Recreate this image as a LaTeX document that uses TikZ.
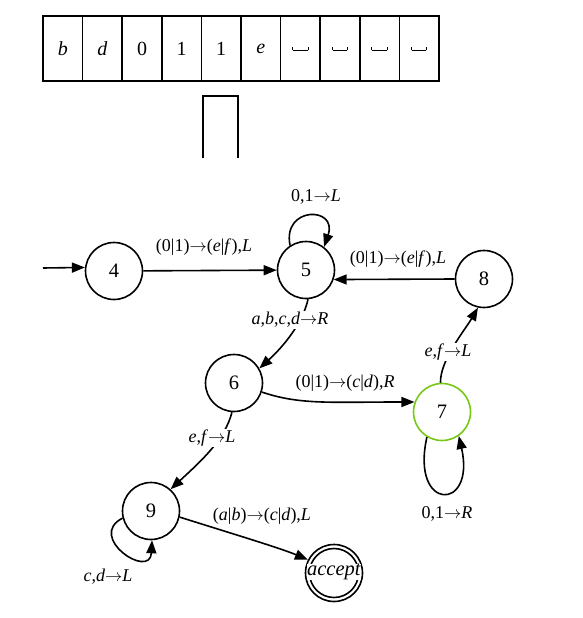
\documentclass[tikz,border=0pt]{standalone}
\usepackage{fontspec}
\setmainfont{Liberation Serif}
\usetikzlibrary{arrows.meta}
\definecolor{stategreen}{RGB}{118,200,20}
\newcommand{\rarr}{\ensuremath{\rightarrow}}
\newcommand{\blanksym}{\raisebox{-1.5pt}{\rule{0.9pt}{3.4pt}\rule{14.5pt}{0.9pt}\rule{0.9pt}{3.4pt}}}
\tikzset{
  state/.style={circle, draw, line width=1.6pt, minimum size=57pt, inner sep=0pt, font=\fontsize{20.5}{24}\selectfont},
  lbl/.style={font=\fontsize{18}{21}\selectfont, inner sep=1pt},
  lblw/.style={lbl, fill=white},
  arr/.style={line width=1.6pt, -{Triangle[length=13pt,width=10pt]}},
  cell/.style={draw, line width=1.7pt, minimum width=39.6pt, minimum height=65pt, inner sep=0pt, font=\fontsize{20}{24}\selectfont},
}
\begin{document}
\begin{tikzpicture}[x=1pt,y=-1pt]
\useasboundingbox (0,0) rectangle (582,618);
% tape
\foreach \t [count=\i] in {\textit{b},\textit{d},0,1,1,\textit{e},\blanksym,\blanksym,\blanksym,\blanksym}{
  \node[cell] (c\i) at ({43+39.6*(\i-0.5)},48.8) {\t};
}
% head
\draw[line width=1.7pt] (203,158) -- (203,96) -- (238,96) -- (238,158);
% states
\node[state] (n4) at (114,271) {4};
\node[state] (n5) at (306,270) {5};
\node[state] (n8) at (484,279) {8};
\node[state] (n6) at (234,383) {6};
\node[state, draw=stategreen] (n7) at (442,412) {7};
\node[state] (n9) at (151,511) {9};
\node[state] (acc) at (334,573) {};
\draw[line width=1.6pt] (acc.center) circle (24.5);
\node[fill=white, inner sep=0pt, font=\fontsize{20.5}{24}\selectfont] (acct) at (334,572) {\textit{accept}};
% start
\coordinate (s) at (43,268);
\draw[arr] (s) -- (n4.173);
% edges
\draw[arr] (n4) -- (n5);
\node[lbl] (l45) at (204,247) {(0|1)\rarr(\textit{e}|\textit{f}),\textit{L}};
\draw[arr] (n5.123) .. controls (282,206) and (338,206) .. (n5.52);
\node[lbl] (l55) at (316,197) {0,1\rarr\textit{L}};
\draw[arr] (n8.180) -- (n5.-19);
\node[lbl] (l85) at (398,259) {(0|1)\rarr(\textit{e}|\textit{f}),\textit{L}};
\draw[arr] (n5.-86) .. controls (303,322) and (285,345) .. (n6.30);
\node[lblw] (l56) at (290,320) {\textit{a},\textit{b},\textit{c},\textit{d}\rarr\textit{R}};
\draw[arr] (n6.-18) .. controls (300,405) and (330,402) .. (n7.160);
\node[lbl] (l67) at (345,383) {(0|1)\rarr(\textit{c}|\textit{d}),\textit{R}};
\draw[arr] (n7.93) .. controls (440,360) and (465,330) .. (n8.-102);
\node[lblw] (l78) at (448,352) {\textit{e},\textit{f}\rarr\textit{L}};
\draw[arr] (n7.-121) .. controls (410,512) and (476,512) .. (n7.-55);
\node[lbl] (l77) at (447,514) {0,1\rarr\textit{R}};
\draw[arr] (n6.-94) .. controls (225,440) and (200,462) .. (n9.48);
\node[lblw] (l69) at (212,438) {\textit{e},\textit{f}\rarr\textit{L}};
\draw[arr] (n9.194) .. controls (86,537) and (150,580) .. (n9.-88);
\node[lbl] (l99) at (108,577) {\textit{c},\textit{d}\rarr\textit{L}};
\draw[arr] (n9.-12) .. controls (230,533) and (280,548) .. (acc.153);
\node[lbl] (l9a) at (262,516) {(\textit{a}|\textit{b})\rarr(\textit{c}|\textit{d}),\textit{L}};
\end{tikzpicture}
\end{document}
